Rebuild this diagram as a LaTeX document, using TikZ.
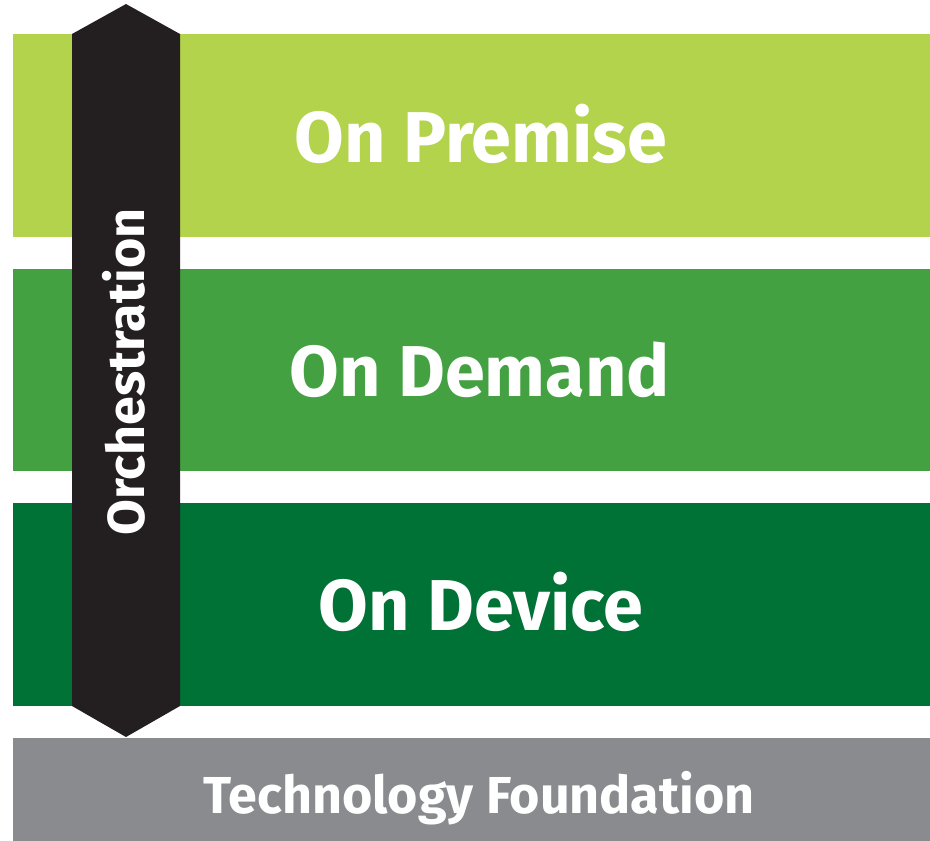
\documentclass[tikz,border=0pt]{standalone}
\usepackage{fontspec}
\setmainfont{Fira Sans}
\definecolor{premiseC}{HTML}{B2D34B}
\definecolor{demandC}{HTML}{43A142}
\definecolor{deviceC}{HTML}{007236}
\definecolor{foundC}{HTML}{8A8B8F}
\definecolor{barC}{HTML}{231F20}
\tikzset{
  band/.style={draw=none, inner sep=0pt, anchor=north west, minimum width=917pt},
  bigtext/.style={text=white, inner sep=0pt, anchor=base, font=\bfseries\fontsize{72}{72}\selectfont},
  smalltext/.style={text=white, inner sep=0pt, anchor=base, font=\bfseries\fontsize{52}{52}\selectfont},
}
\begin{document}
\begin{tikzpicture}[x=1pt,y=-1pt]
\useasboundingbox (0,0) rectangle (930,841);
\node[band, fill=premiseC, minimum height=203pt] (premise) at (13,34) {};
\node[band, fill=demandC, minimum height=202pt] (demand) at (13,269) {};
\node[band, fill=deviceC, minimum height=203pt] (device) at (13,503) {};
\node[band, fill=foundC, minimum height=103pt] (found) at (13,738) {};
\fill[barC] (72,34) -- (126,4) -- (180,34) -- (180,706) -- (126,737) -- (72,706) -- cycle;
\node[bigtext] (tpremise) at (481,162) {On Premise};
\node[bigtext] (tdemand) at (480,396) {On Demand};
\node[bigtext] (tdevice) at (481,630) {On Device};
\node[smalltext] (tfound) at (479,813.5) {Technology Foundation};
\node[smalltext, rotate=90] (torch) at (144,372) {Orchestration};
\end{tikzpicture}
\end{document}
